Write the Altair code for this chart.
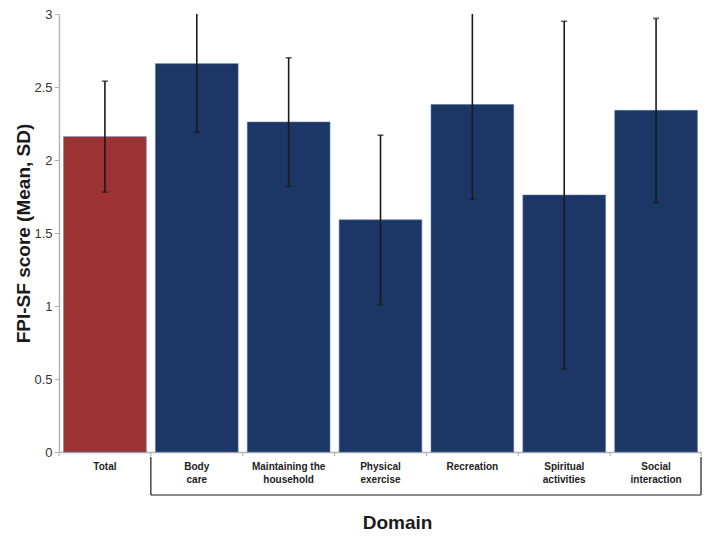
import altair as alt
import pandas as pd

domains = ["Total", "Body care", "Maintaining the household", "Physical exercise",
           "Recreation", "Spiritual activities", "Social interaction"]
labels = ["Total", "Body\ncare", "Maintaining the\nhousehold", "Physical\nexercise",
          "Recreation", "Spiritual\nactivities", "Social\ninteraction"]
means = [2.16, 2.66, 2.26, 1.59, 2.38, 1.76, 2.34]
sds = [0.38, 0.47, 0.44, 0.58, 0.65, 1.19, 0.63]
groups = ["total", "domain", "domain", "domain", "domain", "domain", "domain"]

df = pd.DataFrame({
    "domain": domains,
    "label": labels,
    "mean": means,
    "sd": sds,
    "group": groups,
})
df["lo"] = df["mean"] - df["sd"]
df["hi"] = df["mean"] + df["sd"]

W, H = 643, 438
P_IN, P_OUT = 0.1, 0.05
step = W / (len(domains) - P_IN + 2 * P_OUT)
gap_off = -P_OUT * step  # offset from band start to boundary between bars

xscale = alt.Scale(domain=domains, paddingInner=P_IN, paddingOuter=P_OUT)
yscale = alt.Scale(domain=[0, 3])

x_enc = alt.X("domain:N", scale=xscale, sort=domains,
              axis=alt.Axis(labels=False, ticks=False, domain=True, domainColor="#b5b5b5",
                            domainWidth=1.5, title="Domain", titleFontSize=19,
                            titleFont="Liberation Sans", titleFontWeight="bold",
                            titleColor="#1a1a1a", titleX=338, titleY=70,
                            titleBaseline="middle", titleAlign="center"))

base = alt.Chart(df)

bars = base.mark_bar(stroke="#5b73a0", strokeWidth=0.6).encode(
    x=x_enc,
    y=alt.Y("mean:Q", scale=yscale,
            axis=alt.Axis(values=[0, 0.5, 1, 1.5, 2, 2.5, 3], format=".1~f", grid=False,
                          domainColor="#b5b5b5", domainWidth=1.5, tickColor="#b5b5b5",
                          tickSize=5, labelPadding=2, labelFontSize=13,
                          labelFont="Liberation Sans", labelColor="#333333",
                          title="FPI-SF score (Mean, SD)", titleFontSize=19,
                          titleFont="Liberation Sans", titleFontWeight="bold",
                          titleColor="#1a1a1a", titleX=-36, titleY=H / 2,
                          titleAngle=270, titleBaseline="middle", titleAlign="center")),
    color=alt.Color("group:N", scale=alt.Scale(domain=["total", "domain"],
                                               range=["#9d3234", "#1c3765"]), legend=None),
)

err = base.mark_rule(color="#1a1a1a", strokeWidth=1.6, clip=True).encode(
    x=alt.X("domain:N", scale=xscale, sort=domains),
    y=alt.Y("lo:Q", scale=yscale),
    y2="hi:Q",
)
cap_lo = base.mark_tick(color="#1a1a1a", size=6, thickness=1.6, clip=True).encode(
    x=alt.X("domain:N", scale=xscale, sort=domains),
    y=alt.Y("lo:Q", scale=yscale),
)
cap_hi = base.mark_tick(color="#1a1a1a", size=6, thickness=1.6, clip=True).encode(
    x=alt.X("domain:N", scale=xscale, sort=domains),
    y=alt.Y("hi:Q", scale=yscale),
)

# x ticks at boundaries between bars
ticks = base.mark_rule(color="#b5b5b5", strokeWidth=1.2, xOffset=gap_off).encode(
    x=alt.X("domain:N", scale=xscale, sort=domains, bandPosition=0),
    y=alt.value(H), y2=alt.value(H + 4),
)
end_tick = alt.Chart(pd.DataFrame({"a": [0]})).mark_rule(color="#b5b5b5", strokeWidth=1.2).encode(
    x=alt.value(W - 1), y=alt.value(H), y2=alt.value(H + 4),
)

xlabels = base.mark_text(lineBreak="\n", baseline="top", align="center", fontSize=10,
                         fontWeight="bold", font="Liberation Sans", color="#222222",
                         lineHeight=12.5).encode(
    x=alt.X("domain:N", scale=xscale, sort=domains),
    y=alt.value(H + 10),
    text="label:N",
)

# bracket grouping the domains
brk_df = pd.DataFrame({"domain": [domains[1]]})
brk_left = alt.Chart(brk_df).mark_rule(color="#1a1a1a", strokeWidth=1.2, xOffset=gap_off).encode(
    x=alt.X("domain:N", scale=xscale, sort=domains, bandPosition=0),
    y=alt.value(H + 5), y2=alt.value(H + 43),
)
brk_right = alt.Chart(brk_df).mark_rule(color="#1a1a1a", strokeWidth=1.2).encode(
    x=alt.value(W - 1), y=alt.value(H + 5), y2=alt.value(H + 43),
)
brk_bottom = alt.Chart(brk_df).mark_rule(color="#1a1a1a", strokeWidth=1.2, xOffset=gap_off).encode(
    x=alt.X("domain:N", scale=xscale, sort=domains, bandPosition=0),
    x2=alt.value(W - 1),
    y=alt.value(H + 43),
)

chart = alt.layer(bars, err, cap_lo, cap_hi, ticks, end_tick, xlabels,
                  brk_left, brk_right, brk_bottom).properties(
    width=W, height=H,
    autosize=alt.AutoSizeParams(type="none"),
    padding={"left": 51, "top": 6, "right": 0, "bottom": 83},
    background="white",
).configure_view(stroke=None)

chart.save("out.html", embed_options={"renderer": "svg", "actions": False})
